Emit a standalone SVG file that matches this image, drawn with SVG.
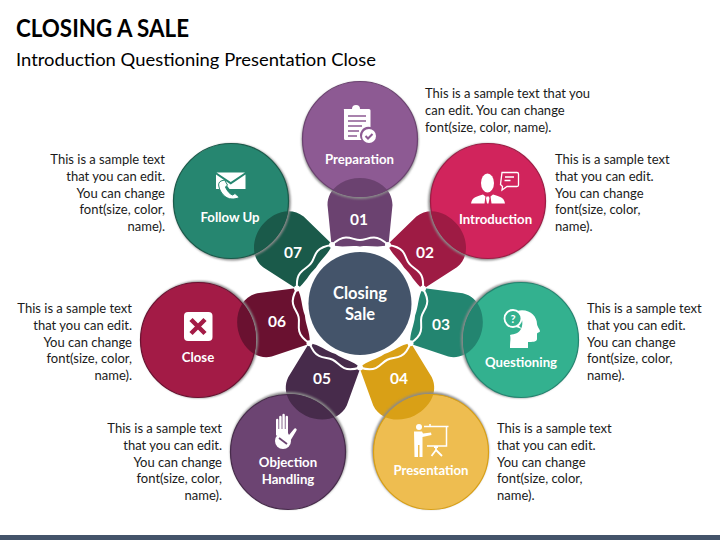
<svg xmlns="http://www.w3.org/2000/svg" width="720" height="540" viewBox="0 0 720 540">
<style>
text{font-family:"Lato","Liberation Sans",sans-serif}
.t{font-size:13px;fill:#1a1a1a}
.r{text-anchor:end}
.l,.n,.c{fill:#fff;font-weight:700;text-anchor:middle}
.l{font-size:13.2px}
.n{font-size:15.5px}
.c{font-size:16.5px}
.w{fill:#fff}
.halo{fill:#8a8a8a;filter:url(#blur)}
</style>
<defs>
<filter id="blur" x="-10%" y="-10%" width="120%" height="120%"><feGaussianBlur stdDeviation="1.2"/></filter>
<path id="petal" d="M-28.500,-58L-32.500,-98C-32.500,-115 -16,-125 0,-125C16,-125 32.500,-115 32.500,-98L28.500,-58C18,-55 10,-58 0,-56.500C-10,-58 -18,-55 -28.500,-58Z"/>
<path id="wave" d="M-28,-58.100C-24,-62 -20,-65.500 -14,-65.500C-8,-65.500 -5,-63 0,-63C5,-63 8,-65.500 14,-65.500C20,-65.500 24,-62 28,-58.100" fill="none" stroke="#fff" stroke-width="2"/>
<clipPath id="c1"><circle cx="360" cy="139" r="58"/></clipPath>
<clipPath id="c2"><circle cx="488" cy="201" r="58"/></clipPath>
<clipPath id="c3"><circle cx="521" cy="340" r="58"/></clipPath>
<clipPath id="c4"><circle cx="431" cy="452" r="58"/></clipPath>
<clipPath id="c5"><circle cx="288" cy="452" r="58"/></clipPath>
<clipPath id="c6"><circle cx="198" cy="340" r="58"/></clipPath>
<clipPath id="c7"><circle cx="231" cy="201" r="58"/></clipPath>
</defs>
<rect width="720" height="540" fill="#fff"/>
<rect y="535" width="720" height="5" fill="#44546a"/>
<text x="16" y="37" font-size="24" font-weight="700" fill="#000" textLength="173" lengthAdjust="spacingAndGlyphs">CLOSING A SALE</text>
<text x="16" y="66" font-size="17.5" fill="#000" textLength="360" lengthAdjust="spacingAndGlyphs">Introduction Questioning Presentation Close</text>

<g id="connectors">
<g transform="translate(360 303)">
<use href="#petal" fill="#6b4270"/>
<use href="#petal" fill="#9e1b44" transform="rotate(51.43)"/>
<use href="#petal" fill="#238570" transform="rotate(102.86)"/>
<use href="#petal" fill="#d9a016" transform="rotate(154.29)"/>
<use href="#petal" fill="#472b4b" transform="rotate(205.71)"/>
<use href="#petal" fill="#6a1130" transform="rotate(257.14)"/>
<use href="#petal" fill="#1a5a4a" transform="rotate(308.57)"/>
</g>
</g>

<g id="node-preparation">
<circle class="halo" cx="360" cy="140.500" r="58.500"/>
<circle cx="360" cy="139" r="57.500" fill="#8d5a93" stroke="#6b4270" stroke-width="1.200"/>
<g clip-path="url(#c1)"><use href="#petal" fill="#6b4270" transform="translate(360 303)"/></g>
<path class="w" d="M344,109h8a4,4 0 0 1 8,0h9a1.500,1.500 0 0 1 1.500,1.500V127a8.500,8.500 0 0 0 -9,13H345.500a1.500,1.500 0 0 1 -1.500,-1.500V110.500a1.500,1.500 0 0 1 0,-1.500Z"/>
<path d="M348,116h18M348,121h18M348,126h14M348,131h11M348,136h9" stroke="#8d5a93" stroke-width="1.500" fill="none"/>
<circle class="w" cx="369" cy="136" r="7"/>
<path d="M365.500,136l2.500,2.500 4.500,-4.500" stroke="#8d5a93" stroke-width="2" fill="none"/>
<text class="l" x="359.500" y="163.500">Preparation</text>
</g>

<g id="node-introduction">
<circle class="halo" cx="486.800" cy="202" r="58.500"/>
<circle cx="488" cy="201" r="57.500" fill="#d1245c" stroke="#9e1b44" stroke-width="1.200"/>
<g clip-path="url(#c2)"><use href="#petal" fill="#9e1b44" transform="translate(360 303) rotate(51.43)"/></g>
<ellipse class="w" cx="487.500" cy="183" rx="6.500" ry="9.500"/>
<path class="w" d="M471,203.500c1,-6 5,-7 12,-9l2.500,2 -1,7ZM505,203.500c-1,-6 -5,-7 -12,-9l-2.500,2 1,7ZM486.500,196.500h2.500l.5,2 -1,5h-1.500l-1,-5Z"/>
<path d="M502,172.500h15a1.500,1.500 0 0 1 1.500,1.500v11a1.500,1.500 0 0 1 -1.500,1.500h-10l-5,3.500 .5,-3.500 -2,-2 1.500,-12Z" fill="none" stroke="#fff" stroke-width="1.300"/>
<path d="M505,177h9M504.500,180.500h6" stroke="#fff" stroke-width="1.300"/>
<text class="l" x="495.500" y="224">Introduction</text>
</g>

<g id="node-questioning">
<circle class="halo" cx="519.500" cy="339.600" r="58.500"/>
<circle cx="521" cy="340" r="57.500" fill="#33b18f" stroke="#238570" stroke-width="1.200"/>
<g clip-path="url(#c3)"><use href="#petal" fill="#238570" transform="translate(360 303) rotate(102.86)"/></g>
<path class="w" d="M517,311c12,-3 20,5 20,13 0,2 3,6 3,7 0,1.500 -3,1.500 -3,3v5c0,3 -5,3 -9,3v6h-18c0,-7 1,-9 0,-13 5,-1 9,-2 11,-6 3,-6 1,-13 -4,-18Z"/>
<circle cx="513" cy="318.500" r="8.500" fill="#33b18f" stroke="#fff" stroke-width="1.800"/>
<path d="M518,325l4,4 -6,-2Z" fill="#fff"/>
<text x="513" y="322.500" text-anchor="middle" font-size="11" font-weight="700" fill="#fff">?</text>
<text class="l" x="521" y="367">Questioning</text>
</g>

<g id="node-presentation">
<circle class="halo" cx="430.300" cy="450.600" r="58.500"/>
<circle cx="431" cy="452" r="57.500" fill="#eebd50" stroke="#d9a016" stroke-width="1.200"/>
<g clip-path="url(#c4)"><use href="#petal" fill="#d9a016" transform="translate(360 303) rotate(154.29)"/></g>
<circle class="w" cx="419" cy="427" r="3"/>
<path class="w" d="M414,431.500h8l1,2 8,-1 .5,2.500 -9,2v20h-3v-12h-1.500v12h-3.500Z"/>
<path d="M424,426.500h24.500M446.500,426.500v19.500h-19.500M430,424v2.500" stroke="#fff" stroke-width="1.500" fill="none"/>
<path d="M436,446v4l-4.500,6M436,450l6,6M434,447h4" stroke="#fff" stroke-width="1.800" fill="none"/>
<text class="l" x="431" y="475">Presentation</text>
</g>

<g id="node-objection">
<circle class="halo" cx="288.700" cy="450.600" r="58.500"/>
<circle cx="288" cy="452" r="57.500" fill="#6c4472" stroke="#472b4b" stroke-width="1.200"/>
<g clip-path="url(#c5)"><use href="#petal" fill="#472b4b" transform="translate(360 303) rotate(205.71)"/></g>
<path class="w" d="M276,435v-15a1.200,1.200 0 0 1 2.400,0v9h.8v-12a1.200,1.200 0 0 1 2.400,0v12h.8v-14a1.200,1.200 0 0 1 2.400,0v14h.8v-12a1.200,1.200 0 0 1 2.400,0v16l1,2 5,-6a1.400,1.400 0 0 1 2.500,1.500l-6,10c-3,-4 -11,-4 -14,-5Z"/>
<circle cx="283" cy="441" r="8" fill="#fff"/>
<path d="M279,438l8,6" stroke="#6c4472" stroke-width="1.800"/>
<text class="l" x="288" y="467">Objection</text>
<text class="l" x="288" y="484">Handling</text>
</g>

<g id="node-close">
<circle class="halo" cx="199.500" cy="339.600" r="58.500"/>
<circle cx="198" cy="340" r="57.500" fill="#a31b46" stroke="#6a1130" stroke-width="1.200"/>
<g clip-path="url(#c6)"><use href="#petal" fill="#6a1130" transform="translate(360 303) rotate(257.14)"/></g>
<rect class="w" x="184" y="312" width="28.500" height="29" rx="4"/>
<path d="M191,319.500l14,14M205,319.500l-14,14" stroke="#a31b46" stroke-width="4.500"/>
<text class="l" x="198" y="361.500">Close</text>
</g>

<g id="node-followup">
<circle class="halo" cx="232.200" cy="202" r="58.500"/>
<circle cx="231" cy="201" r="57.500" fill="#268670" stroke="#1a5a4a" stroke-width="1.200"/>
<g clip-path="url(#c7)"><use href="#petal" fill="#1a5a4a" transform="translate(360 303) rotate(308.57)"/></g>
<path class="w" d="M216.500,172.500h28.500l-14.250,9.500ZM216,174.500l14.750,10 14.750,-10v14.500h-16l-3,-4 -4,.5 -2,3.500h-4.500Z"/>
<path d="M221,181c-2,1 -3,3 -2,6 1,5 6,12 13,12 4,0 7,-1 7,-2l-4,-3.500 -2.500,1.500c-3,-1 -6,-5 -7,-8l2,-2 -3,-5Z" fill="#fff" stroke="#268670" stroke-width="1"/>
<text class="l" x="230" y="221.500">Follow Up</text>
</g>

<g id="node-numbers">
<text class="n" x="359" y="225">01</text>
<text class="n" x="425" y="258">02</text>
<text class="n" x="441" y="330">03</text>
<text class="n" x="399" y="384">04</text>
<text class="n" x="322" y="384">05</text>
<text class="n" x="277" y="327">06</text>
<text class="n" x="293" y="258">07</text>
</g>

<g id="ring" transform="translate(360 303)">
<use href="#wave"/>
<use href="#wave" transform="rotate(51.43)"/>
<use href="#wave" transform="rotate(102.86)"/>
<use href="#wave" transform="rotate(154.29)"/>
<use href="#wave" transform="rotate(205.71)"/>
<use href="#wave" transform="rotate(257.14)"/>
<use href="#wave" transform="rotate(308.57)"/>
<g class="w">
<circle cx="28" cy="-58" r="3"/><circle cx="63" cy="-14.400" r="3"/><circle cx="50.500" cy="40.300" r="3"/><circle cx="0" cy="64.500" r="3"/><circle cx="-50.500" cy="40.300" r="3"/><circle cx="-63" cy="-14.400" r="3"/><circle cx="-28" cy="-58" r="3"/>
</g>
</g>

<g id="node-center">
<circle cx="360" cy="303.500" r="51.500" fill="#44546a"/>
<text class="c" x="360" y="299">Closing</text>
<text class="c" x="360" y="320">Sale</text>
</g>

<g id="captions">
<g class="t">
<text x="425" y="98">This is a sample text that you</text><text x="425" y="115">can edit. You can change</text><text x="425" y="132">font(size, color, name).</text>
<text x="555" y="164">This is a sample text</text><text x="555" y="181">that you can edit.</text><text x="555" y="198">You can change</text><text x="555" y="214">font(size, color,</text><text x="555" y="231">name).</text>
<text x="587" y="313">This is a sample text</text><text x="587" y="330">that you can edit.</text><text x="587" y="347">You can change</text><text x="587" y="363">font(size, color,</text><text x="587" y="380">name).</text>
<text x="497" y="433">This is a sample text</text><text x="497" y="450">that you can edit.</text><text x="497" y="467">You can change</text><text x="497" y="483">font(size, color,</text><text x="497" y="500">name).</text>
</g>
<g class="t r">
<text x="222" y="433">This is a sample text</text><text x="222" y="450">that you can edit.</text><text x="222" y="467">You can change</text><text x="222" y="483">font(size, color,</text><text x="222" y="500">name).</text>
<text x="132" y="313">This is a sample text</text><text x="132" y="330">that you can edit.</text><text x="132" y="347">You can change</text><text x="132" y="363">font(size, color,</text><text x="132" y="380">name).</text>
<text x="165" y="164">This is a sample text</text><text x="165" y="181">that you can edit.</text><text x="165" y="198">You can change</text><text x="165" y="214">font(size, color,</text><text x="165" y="231">name).</text>
</g>
</g>
</svg>
